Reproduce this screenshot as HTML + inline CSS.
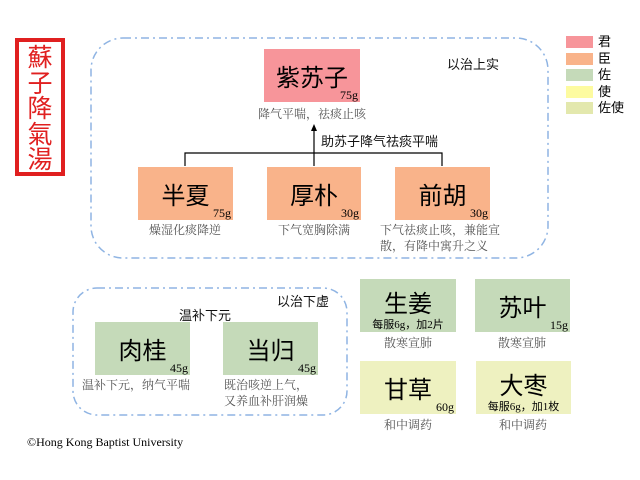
<!DOCTYPE html>
<html><head><meta charset="utf-8"><style>
body{margin:0;width:640px;height:480px;background:#fff;position:relative;overflow:hidden;font-family:"Liberation Serif","Noto Serif CJK SC",serif;}
.a{position:absolute;}
.box{position:absolute;display:flex;align-items:center;justify-content:center;font-family:"Liberation Sans","Noto Sans CJK SC",sans-serif;font-size:24px;color:#000;}
.w{position:absolute;right:2px;bottom:0;font-family:"Liberation Serif",serif;font-size:12px;line-height:13px;}
.lbl{position:absolute;font-family:"Liberation Serif","Noto Serif CJK SC",serif;font-size:12px;color:#555;line-height:16px;text-align:center;white-space:nowrap;}
.r{background:#f7959a}.o{background:#f9b38a}.g{background:#c5dab9}.y{background:#eef1c0}
.bl{position:absolute;font-family:"Liberation Sans","Noto Sans CJK SC",sans-serif;font-size:13px;color:#111;white-space:nowrap;}
.sw{position:absolute;left:566px;width:27px;height:12px;}
.lt{position:absolute;left:598px;font-family:"Liberation Sans","Noto Sans CJK SC",sans-serif;font-size:13px;line-height:14px;}
</style></head><body>
<svg class="a" style="left:0;top:0" width="640" height="480">
<rect x="91" y="38" width="457" height="220" rx="32" fill="none" stroke="#8fb4e3" stroke-width="1.5" stroke-dasharray="8,4,2,4"/>
<rect x="73" y="288" width="274" height="127" rx="24" fill="none" stroke="#8fb4e3" stroke-width="1.5" stroke-dasharray="8,4,2,4"/>
<rect x="17" y="40" width="46" height="134" fill="none" stroke="#e02020" stroke-width="4"/>
<polyline points="185,166 185,153 442,153 442,166" fill="none" stroke="#000" stroke-width="1.2"/>
<line x1="314" y1="166" x2="314" y2="130" stroke="#000" stroke-width="1.2"/>
<polygon points="314,124 311,131 317,131" fill="#000"/>
</svg>
<div class="a" style="left:21px;top:44px;width:38px;font-family:'Noto Sans CJK SC',sans-serif;font-size:25px;line-height:25.6px;color:#e02020;text-align:center;">蘇<br>子<br>降<br>氣<br>湯</div>

<div class="box r" style="left:264px;top:49px;width:96px;height:53px;">紫苏子<span class="w">75g</span></div>
<div class="lbl" style="left:252px;top:106px;width:120px">降气平喘，祛痰止咳</div>
<div class="bl" style="left:321px;top:131px">助苏子降气祛痰平喘</div>
<div class="bl" style="left:447px;top:54px">以治上实</div>

<div class="box o" style="left:138px;top:167px;width:95px;height:53px;">半夏<span class="w">75g</span></div>
<div class="lbl" style="left:125px;top:222px;width:120px">燥湿化痰降逆</div>
<div class="box o" style="left:267px;top:167px;width:94px;height:53px;">厚朴<span class="w">30g</span></div>
<div class="lbl" style="left:254px;top:222px;width:120px">下气宽胸除满</div>
<div class="box o" style="left:395px;top:167px;width:95px;height:53px;">前胡<span class="w">30g</span></div>
<div class="lbl" style="left:380px;top:222px;text-align:left">下气祛痰止咳，兼能宣<br>散，有降中寓升之义</div>

<div class="sw r" style="top:36px"></div><div class="lt" style="top:35px">君</div>
<div class="sw o" style="top:53px"></div><div class="lt" style="top:52px">臣</div>
<div class="sw g" style="top:69px"></div><div class="lt" style="top:68px">佐</div>
<div class="sw" style="top:86px;background:#fdfba0"></div><div class="lt" style="top:85px">使</div>
<div class="sw" style="top:102px;background:#e3e8ad"></div><div class="lt" style="top:101px">佐使</div>

<div class="bl" style="left:277px;top:291px">以治下虚</div>
<div class="bl" style="left:179px;top:305px">温补下元</div>
<div class="box g" style="left:95px;top:322px;width:95px;height:53px;">肉桂<span class="w">45g</span></div>
<div class="lbl" style="left:82px;top:377px;text-align:left">温补下元，纳气平喘</div>
<div class="box g" style="left:223px;top:322px;width:95px;height:53px;">当归<span class="w">45g</span></div>
<div class="lbl" style="left:224px;top:377px;text-align:left">既治咳逆上气，<br>又养血补肝润燥</div>

<div class="box g" style="left:360px;top:279px;width:96px;height:53px;padding-bottom:8px;box-sizing:border-box">生姜<span class="w" style="right:0;width:96px;text-align:center;font-size:11px">每服6g，加2片</span></div>
<div class="lbl" style="left:348px;top:335px;width:120px">散寒宣肺</div>
<div class="box g" style="left:475px;top:279px;width:95px;height:53px;">苏叶<span class="w">15g</span></div>
<div class="lbl" style="left:462px;top:335px;width:120px">散寒宣肺</div>
<div class="box y" style="left:360px;top:361px;width:96px;height:53px;">甘草<span class="w">60g</span></div>
<div class="lbl" style="left:348px;top:417px;width:120px">和中调药</div>
<div class="box y" style="left:476px;top:361px;width:95px;height:53px;padding-bottom:8px;box-sizing:border-box">大枣<span class="w" style="right:0;width:95px;text-align:center;font-size:11px">每服6g，加1枚</span></div>
<div class="lbl" style="left:463px;top:417px;width:120px">和中调药</div>

<div class="a" style="left:27px;top:435px;font-size:12px;color:#000">©Hong Kong Baptist University</div>
</body></html>
